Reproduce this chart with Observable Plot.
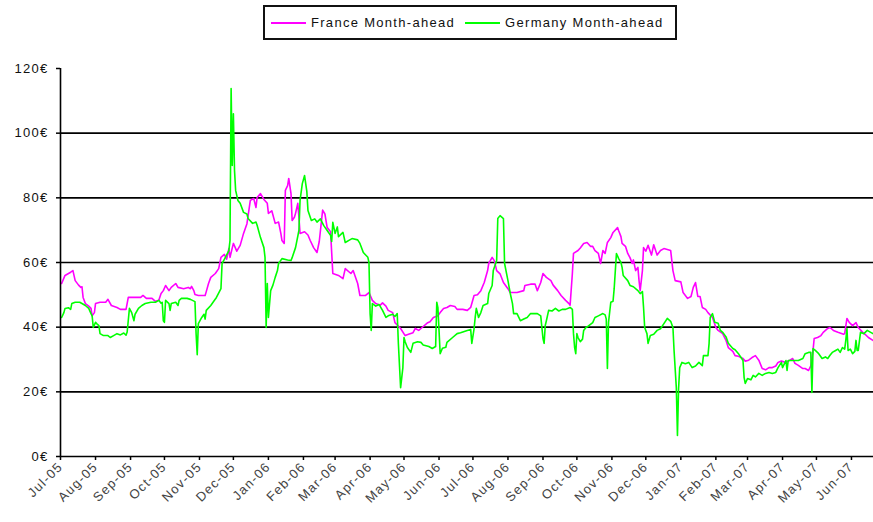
<!DOCTYPE html>
<html>
<head>
<meta charset="utf-8">
<script src="https://cdn.jsdelivr.net/npm/d3@7"></script>
<script src="https://cdn.jsdelivr.net/npm/@observablehq/plot@0.6"></script>
<style>
  html, body { margin: 0; padding: 0; background: #fff; }
  body { width: 873px; height: 522px; position: relative; overflow: hidden; font-family: "Liberation Sans", Arial, sans-serif; }
  #legend { position: absolute; left: 263px; top: 5px; width: 410px; height: 31px; border: 2px solid #111; display: flex; align-items: center; font-size: 13px; letter-spacing: 1.3px; color: #111; box-sizing: content-box; }
  #legend .sw { display: inline-block; width: 35px; height: 2px; margin: 0 5px 0 6px; }
  #legend .item { display: flex; align-items: center; margin-right: 4px; }
  #chart { position: absolute; left: 0; top: 45px; }
  #chart svg text { letter-spacing: 1.3px; }
</style>
</head>
<body>
<div id="legend"></div>
<div id="chart"></div>
<script>
// Series: [day offset from 1 Jul 2005, €/MWh]
const seriesNames = ["France Month-ahead", "Germany Month-ahead"];
const seriesColors = ["#ff00ff", "#00ff00"];
const yTicks = [0, 20, 40, 60, 80, 100, 120];
const gridValues = [20, 40, 60, 80, 100];
const startDate = [2005, 6, 1];
const endDate = [2007, 5, 20];

const france = [
  [1,53.5],[4,56],[9,57],[11,57.5],[13,54.4],[16,53],[18,52.3],[19,52.5],[20,49.2],[22,47.3],[25,46.5],[27,45.8],[28,43.5],[30,44.5],[31,47.3],[35,47.7],[40,47.7],[42,48.6],[45,46.7],[50,46.1],[53,45.5],[58,45.5],[60,49.2],[66,49.2],[71,49.2],[73,49.8],[76,48.9],[81,48.9],[84,48],[87,48.3],[89,50.4],[91,51.3],[93,52.9],[96,51.3],[98,52.3],[102,53.5],[104,52.3],[109,51.9],[113,52.3],[115,51.9],[116,52.6],[118,51.3],[119,50.1],[122,49.8],[128,49.8],[129,51],[131,53.5],[133,55.4],[137,56.6],[140,58.1],[142,61.6],[145,62.5],[147,61],[149,64.3],[150,61.6],[153,65.9],[156,63.5],[159,65.3],[162,69],[165,72],[168,79.2],[171,79.8],[173,77],[174,80.1],[177,81.3],[180,79.5],[183,78.3],[184,75.2],[187,76],[190,72.1],[193,72.5],[195,69],[196,66.8],[198,65.9],[199,82.3],[201,83.8],[202,86],[204,81.3],[205,73],[207,74],[208,75.2],[210,78.3],[211,74],[212,69],[216,69.5],[219,68.5],[221,66.8],[224,64.6],[227,63.1],[229,66.5],[232,76.2],[234,75],[236,70.8],[239,69.5],[241,56.6],[246,56],[250,55],[252,58.1],[257,56.6],[259,57.5],[263,53.5],[265,49.8],[270,49.8],[273,50.7],[276,48.3],[279,47.3],[283,46.8],[285,47.5],[288,46.5],[290,45.2],[294,44.5],[296,41.4],[301,39.6],[305,37.4],[308,37.8],[312,38.3],[314,39.6],[317,39],[320,39.9],[325,41.4],[327,41.7],[330,43],[334,43.5],[336,44.5],[339,45.8],[342,46.1],[345,46.7],[349,46.4],[351,45.5],[356,45.5],[360,45.2],[363,46.1],[366,49.8],[369,50],[372,51.3],[375,53.8],[378,57.5],[379,59.7],[382,61.6],[384,60.5],[386,57.5],[389,56.5],[392,53.8],[396,51.9],[398,50.7],[404,50.7],[410,51.3],[411,52.9],[416,53.3],[420,53.3],[422,51.3],[425,53.8],[427,56.6],[430,55.4],[434,54.4],[436,53],[440,51.3],[443,49.8],[447,48.3],[450,47.3],[451,46.8],[453,56.6],[454,62.8],[458,63.7],[460,64.5],[463,65.9],[466,66.2],[469,65],[471,65],[473,63.7],[476,62.8],[478,59.7],[480,63.7],[482,62.8],[484,66.2],[487,67.7],[489,69.3],[493,70.8],[494,69.8],[496,68],[497,65.9],[500,65],[502,62.8],[504,61.5],[506,59.7],[507,60.8],[509,57.5],[511,58.5],[512,54.4],[513,51.3],[515,57.5],[516,64.6],[518,63.5],[520,65.3],[523,62.3],[525,65.5],[528,62.3],[531,63.7],[534,64.3],[540,63.7],[542,57.5],[544,54.4],[549,54],[551,50.7],[555,48.9],[558,49.5],[560,52.3],[562,53.8],[564,49.5],[566,49.5],[568,46.1],[571,45.5],[573,44.5],[577,43],[580,39.9],[582,39],[586,38],[589,35.9],[591,33.7],[595,32.5],[597,31.2],[600,31],[604,30.3],[606,29.5],[609,29.8],[612,30.6],[615,31.2],[618,29.8],[621,27.2],[624,26.8],[627,27.5],[630,27.5],[633,28],[635,29.1],[638,29.5],[642,29.1],[644,29.5],[648,30.3],[650,28.8],[653,28.2],[657,27.2],[659,27.2],[662,26.6],[664,28],[666,32.8],[667,36.5],[670,36.8],[673,37.4],[675,38.4],[679,39.6],[681,39.9],[684,39],[688,38.4],[693,37.8],[694,38],[696,42.7],[698,41.5],[701,40.5],[704,41.4],[706,39.9],[710,38.4],[712,37.8],[715,36.8],[719,35.9]
];

const germany = [
  [1,43],[3,44.5],[4,45.8],[7,46],[9,45.5],[10,47.3],[13,47.7],[17,47.7],[19,47.3],[22,46.7],[25,45.8],[27,44.2],[28,43.5],[29,39.9],[31,41.5],[32,41.1],[34,40.5],[35,38],[38,37.4],[42,37.4],[44,36.8],[47,37.4],[50,38],[53,37.6],[56,38.2],[58,37.5],[59,38.5],[61,45.8],[63,44.5],[65,42],[66,44],[69,45.8],[72,46.7],[75,47.3],[80,47.7],[84,47.7],[87,48.3],[89,47.4],[90,47.7],[91,42],[92,41.5],[93,48.3],[96,47.3],[97,45.2],[98,47.3],[102,47.7],[104,46.7],[105,48.3],[107,48.9],[112,48.9],[115,48.6],[119,47.9],[120,38],[121,31.5],[122,41.1],[125,43],[127,44],[128,42.5],[129,45.2],[133,46.7],[135,47.7],[138,49.2],[142,51.9],[143,59.7],[145,61],[149,63.7],[150,66.8],[151,113.8],[152,90],[153,106],[154,88.5],[155,82.3],[157,79.2],[159,78.3],[162,75.5],[165,75],[166,73.6],[170,72.1],[173,72.5],[174,71.5],[177,67.7],[180,64.6],[181,61.6],[182,39.9],[183,53.5],[184,43],[186,51.3],[188,53],[190,55.4],[192,57.5],[193,59.7],[196,61.2],[201,60.8],[204,60.6],[205,61.5],[208,64.6],[211,69.9],[212,79.2],[214,84.4],[216,86.9],[218,82],[219,76.1],[222,73],[225,73.5],[227,72.5],[230,73.5],[233,71.4],[236,69.9],[239,68.4],[240,66.5],[241,72.4],[243,69],[245,71],[246,68],[250,69.3],[252,66.2],[256,67],[258,67.4],[263,67],[265,65.9],[268,63.1],[272,61.6],[273,60],[274,44.2],[275,39],[276,47.3],[279,46.5],[282,47],[285,45.2],[288,43],[290,43.5],[294,44],[296,43.3],[298,44.2],[299,35],[301,21.3],[303,27.5],[304,36.8],[305,35.5],[307,33.7],[310,32.2],[312,35],[316,35.5],[319,35.3],[321,34.5],[326,34],[329,33.4],[332,34],[333,47.7],[334,46],[335,39],[336,31.8],[338,33.5],[341,33.8],[342,35.3],[347,36.8],[351,38],[354,38.3],[360,39],[363,39.3],[364,35],[366,39.5],[367,43],[368,45.8],[370,43],[372,44.5],[374,46.7],[378,47.3],[379,50.4],[382,52.9],[383,57.5],[386,60.6],[387,73.6],[389,74.5],[392,73.6],[393,59.7],[396,54.4],[398,50.5],[400,47.3],[401,44.2],[404,44.2],[407,42],[410,42.5],[413,43],[416,44.2],[422,44.2],[425,43.5],[427,36.5],[428,35],[429,40.5],[430,42],[432,45.2],[435,45],[438,45.8],[441,45],[444,45.5],[447,45.5],[451,46.1],[453,45.5],[454,38],[455,33.7],[456,31.8],[457,38],[458,36.8],[460,35.5],[462,36.3],[463,39],[465,39.9],[467,40.3],[471,41.4],[473,43],[476,43.5],[480,44.2],[482,43.8],[483,42.5],[484,27.2],[485,41.5],[487,47.7],[489,48],[490,51.9],[492,62.8],[494,61.2],[496,60],[497,58.5],[498,56],[502,54.4],[504,52.9],[507,52.5],[511,51.3],[513,50.4],[515,51],[516,46.1],[517,39.9],[519,38],[520,35],[522,37.4],[525,37.8],[528,39],[531,39.5],[534,41.1],[537,42.7],[540,41.8],[542,39.9],[543,32.8],[545,21.3],[546,6.5],[547,21],[548,27.5],[550,29.1],[553,28.7],[556,29.1],[559,27.5],[562,28],[565,29.1],[568,28.1],[569,31.2],[573,31.2],[574,35],[575,43],[577,44.2],[579,41.5],[582,41.2],[584,39],[586,38.4],[589,37],[591,35],[595,33.4],[597,33],[600,31.8],[604,29.7],[605,24.4],[606,22.6],[608,24.1],[611,23.7],[613,25.1],[615,24.6],[618,25.7],[621,25.1],[624,25.7],[627,26],[630,25.7],[633,26],[635,27.5],[638,29.1],[639,27.5],[642,29.7],[643,26.6],[644,29.7],[648,29.7],[653,29.7],[657,30.3],[659,31.8],[662,32.2],[664,32.2],[665,19.8],[666,33.4],[668,32.8],[671,31.8],[674,30.3],[677,30.8],[679,30.3],[681,31.3],[683,32.2],[686,32.8],[688,33.2],[690,32.2],[692,33.7],[694,33.2],[695,36],[696,39.6],[697,32.8],[699,33.2],[701,31.8],[703,32.5],[704,35.9],[705,32.8],[706,32.8],[708,38.4],[711,38],[714,39],[717,38.4],[719,38]
];

const toDate = d => new Date(Date.UTC(startDate[0], startDate[1], startDate[2] + d));
const rows = [];
[france, germany].forEach((s, i) => s.forEach(([d, v]) => rows.push({date: toDate(d), value: v, series: seriesNames[i]})));

const x0 = new Date(Date.UTC(...startDate));
const x1 = new Date(Date.UTC(endDate[0], endDate[1], endDate[2], 12));
const monthTicks = d3.utcMonth.range(x0, x1);

const chart = Plot.plot({
  width: 873,
  height: 477,
  marginLeft: 60,
  marginRight: 0,
  marginTop: 23,
  marginBottom: 66,
  style: {fontFamily: "Liberation Sans, Arial, sans-serif", fontSize: "13px", background: "#fff"},
  x: {type: "utc", domain: [x0, x1]},
  y: {domain: [0, 120]},
  color: {domain: seriesNames, range: seriesColors},
  marks: [
    Plot.ruleY(gridValues, {stroke: "#000", strokeWidth: 1.6}),
    Plot.line(rows, {x: "date", y: "value", z: "series", stroke: "series", strokeWidth: 1.6}),
    Plot.ruleY([0], {stroke: "#000", strokeWidth: 1.6}),
    Plot.ruleX([x0], {y1: 0, y2: 120, stroke: "#000", strokeWidth: 1.6}),
    Plot.axisY({ticks: yTicks, tickFormat: d => d + "€", tickSize: 4, tickPadding: 8, stroke: "#000", fill: "#111", label: null, strokeWidth: 1.5}),
    Plot.axisX({ticks: monthTicks, tickFormat: d3.utcFormat("%b-%y"), tickRotate: -45, tickSize: 4, tickPadding: 4, stroke: "#000", fill: "#444", label: null, strokeWidth: 1.5})
  ]
});
document.getElementById("chart").appendChild(chart);

const legend = document.getElementById("legend");
seriesNames.forEach((n, i) => {
  const item = document.createElement("span");
  item.className = "item";
  const sw = document.createElement("span");
  sw.className = "sw";
  sw.style.background = seriesColors[i];
  item.appendChild(sw);
  item.appendChild(document.createTextNode(n));
  legend.appendChild(item);
});
</script>
</body>
</html>
